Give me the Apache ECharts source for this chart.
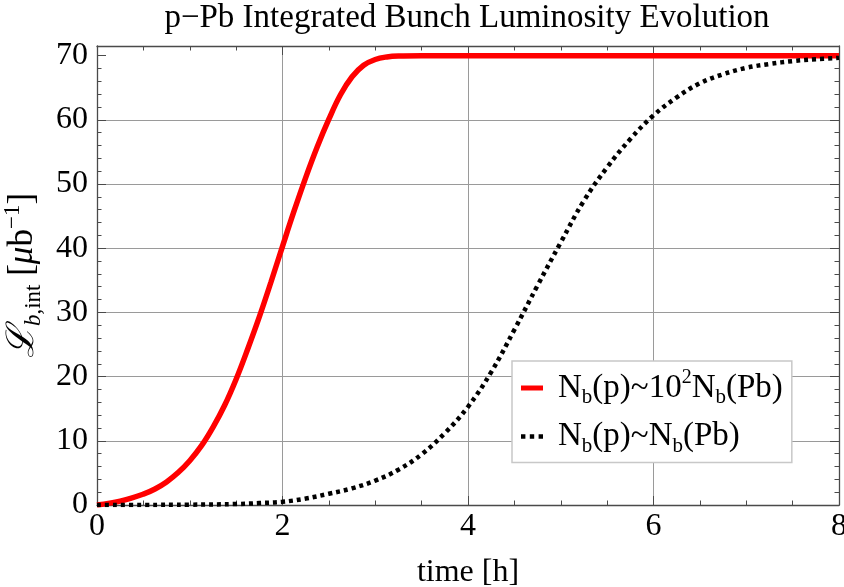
<!DOCTYPE html>
<html><head><meta charset="utf-8">
<script src="https://cdn.jsdelivr.net/npm/echarts@6/dist/echarts.min.js"></script>
<style>html,body{margin:0;padding:0;background:#fff}#c{width:844px;height:587px}</style>
</head><body><div id="c"></div>
<script>
// ---- data ----
const titleText = 'p\u2212Pb Integrated Bunch Luminosity Evolution';
const seriesNames = ['Nb(p)~10^2 Nb(Pb)', 'Nb(p)~Nb(Pb)'];
const tRed = [0, 0.25, 0.5, 0.625, 0.75, 0.875, 1.0, 1.125, 1.25, 1.375, 1.5, 1.625, 1.75, 1.875, 2.0, 2.125, 2.25, 2.375, 2.5, 2.625, 2.75, 2.875, 3.0, 3.125, 3.25, 3.5, 4, 5, 6, 7, 8];
const lRed = [0, 0.6, 1.7, 2.5, 3.6, 5.05, 6.9, 9.2, 12.1, 15.5, 19.6, 24.3, 29.3, 34.7, 40.3, 45.8, 51.0, 55.8, 60.1, 63.9, 66.7, 68.5, 69.4, 69.8, 69.95, 70, 70, 70, 70, 70, 70];
const tBlack = [0, 0.5, 1.0, 1.5, 1.75, 2.0, 2.25, 2.5, 2.75, 3.0, 3.25, 3.5, 3.75, 4.0, 4.25, 4.5, 4.75, 5.0, 5.25, 5.5, 5.75, 6.0, 6.25, 6.5, 6.75, 7.0, 7.25, 7.5, 7.75, 8.0];
const lBlack = [0, 0.01, 0.05, 0.15, 0.3, 0.5, 1.0, 1.75, 2.6, 3.8, 5.5, 7.9, 11.2, 15.3, 20.7, 27.3, 34.2, 40.9, 47.4, 52.6, 57.0, 60.7, 63.5, 65.7, 67.1, 68.1, 68.7, 69.15, 69.45, 69.65];
const xTickLabels = [0, 2, 4, 6, 8];
const yTickLabels = [0, 10, 20, 30, 40, 50, 60, 70];

// ---- styling ----
const FONT = 'Liberation Serif';
const FRAME = '#4a4a4a';
const GRID = '#9a9a9a';
const X_MIN = 0, X_MAX = 8, Y_MIN = 0, Y_MAX = 71.5;

const chart = echarts.init(document.getElementById('c'), null, {renderer: 'canvas'});

function yLabel(v) { return yTickLabels.indexOf(v) >= 0 ? String(v) : ''; }
function xLabel(v) { return xTickLabels.indexOf(v) >= 0 ? String(v) : ''; }

const ySplitColors = [];
for (let i = 0; i < 9; i++) ySplitColors.push(i === 0 || i >= 7 ? 'rgba(0,0,0,0)' : GRID);
const xSplitColors = ['rgba(0,0,0,0)', GRID, GRID, GRID, 'rgba(0,0,0,0)'];

const baseY = {
  type: 'value', min: Y_MIN, max: Y_MAX, gridIndex: 0,
  axisLine: {show: false, onZero: false},
  axisLabel: {show: false},
  splitLine: {show: false},
  axisTick: {show: true, inside: true, length: 9, lineStyle: {color: FRAME, width: 1}}
};
const baseX = {
  type: 'value', min: X_MIN, max: X_MAX, interval: 2, gridIndex: 0,
  axisLine: {show: true, onZero: false, lineStyle: {color: FRAME, width: 1.3}},
  axisLabel: {show: false},
  splitLine: {show: false},
  axisTick: {show: true, inside: true, length: 9, lineStyle: {color: FRAME, width: 1}},
  minorTick: {show: true, splitNumber: 4, length: 4.5, lineStyle: {color: FRAME, width: 1}}
};

const option = {
  animation: false,
  backgroundColor: '#fff',
  textStyle: {fontFamily: FONT},
  title: {
    text: titleText, left: 467, top: 2, padding: 0, textAlign: 'center',
    textStyle: {fontFamily: FONT, fontSize: 33, fontWeight: 'normal', color: '#000'}
  },
  grid: {left: 97, right: 5, top: 46, bottom: 82, containLabel: false, outerBoundsMode: 'none'},
  legend: {
    orient: 'vertical', left: 512, top: 361,
    padding: [7, 9, 6, 9], itemGap: 12, itemWidth: 22, itemHeight: 5,
    backgroundColor: '#fff', borderColor: '#c8c8c8', borderWidth: 1.5, borderRadius: 0,
    data: [
      {name: seriesNames[0], icon: 'rect'},
      {name: seriesNames[1], icon: 'path://M0,0h4v4h-4zM8,0h4v4h-4zM16,0h4v4h-4z'}
    ],
    formatter: function (name) {
      if (name === seriesNames[0]) return '{n0|N}{sub|b}{n|(p)~10}{sup|2}{n|N}{sub|b}{n|(Pb)}';
      return '{n0|N}{sub|b}{n|(p)~N}{sub|b}{n|(Pb)}';
    },
    textStyle: {
      fontFamily: FONT, color: '#000', fontSize: 33,
      rich: {
        n0: {fontFamily: FONT, fontSize: 33, lineHeight: 40, color: '#000', padding: [0, 0, 0, 10]},
        n: {fontFamily: FONT, fontSize: 33, lineHeight: 40, color: '#000'},
        sub: {fontFamily: FONT, fontSize: 21, lineHeight: 21, color: '#000', verticalAlign: 'bottom'},
        sup: {fontFamily: FONT, fontSize: 20, lineHeight: 33, color: '#000', verticalAlign: 'top'}
      }
    }
  },
  xAxis: [
    Object.assign({}, baseX, {
      position: 'bottom',
      axisLabel: {show: true, formatter: xLabel, fontFamily: FONT, fontSize: 32, color: '#000', margin: 6},
      splitLine: {show: true, lineStyle: {color: xSplitColors, width: 1}},
      name: 'time [h]', nameLocation: 'middle', nameGap: 52,
      nameTextStyle: {fontFamily: FONT, fontSize: 32, color: '#000'}
    }),
    Object.assign({}, baseX, {position: 'top'})
  ],
  yAxis: [
    Object.assign({}, baseY, {
      position: 'left', interval: 10,
      axisLine: {show: true, onZero: false, lineStyle: {color: FRAME, width: 1.3}},
      axisLabel: {show: true, formatter: yLabel, fontFamily: FONT, fontSize: 32, color: '#000', margin: 9},
      splitLine: {show: true, lineStyle: {color: ySplitColors, width: 1}},
      name: '{L|\u2112}{si|b}{s|,int}{m| [}{mi|\u03bc}{m|b}{sup|\u22121}{m|]}',
      nameLocation: 'middle', nameRotate: 90, nameGap: 44,
      nameTextStyle: {
        fontFamily: FONT, fontSize: 34, color: '#000',
        rich: {
          L: {fontSize: 38, lineHeight: 44, fontStyle: 'italic', color: '#000'},
          m: {fontFamily: FONT, fontSize: 35, lineHeight: 44, color: '#000'},
          mi: {fontFamily: FONT, fontSize: 35, lineHeight: 44, fontStyle: 'italic', color: '#000'},
          si: {fontFamily: FONT, fontSize: 23, lineHeight: 23, fontStyle: 'italic', color: '#000', verticalAlign: 'bottom'},
          s: {fontFamily: FONT, fontSize: 23, lineHeight: 23, color: '#000', verticalAlign: 'bottom'},
          sup: {fontFamily: FONT, fontSize: 23, lineHeight: 23, color: '#000', verticalAlign: 'top'}
        }
      }
    }),
    Object.assign({}, baseY, {position: 'left', interval: 2, axisTick: {show: true, inside: true, length: 4.5, lineStyle: {color: FRAME, width: 1}}}),
    Object.assign({}, baseY, {position: 'right', interval: 10,
      axisLine: {show: true, onZero: false, lineStyle: {color: FRAME, width: 1.3}}}),
    Object.assign({}, baseY, {position: 'right', interval: 2, axisTick: {show: true, inside: true, length: 4.5, lineStyle: {color: FRAME, width: 1}}})
  ],
  series: [
    {
      name: seriesNames[0], type: 'line', xAxisIndex: 0, yAxisIndex: 0,
      data: tRed.map((t, i) => [t, lRed[i]]),
      symbol: 'none', showSymbol: false, smooth: 0.4,
      lineStyle: {color: '#ff0000', width: 5.5}, itemStyle: {color: '#ff0000'}
    },
    {
      name: seriesNames[1], type: 'line', xAxisIndex: 0, yAxisIndex: 0,
      data: tBlack.map((t, i) => [t, lBlack[i]]),
      symbol: 'none', showSymbol: false, smooth: 0.4,
      lineStyle: {color: '#000000', width: 4.5, type: [4, 4]}, itemStyle: {color: '#000000'}
    }
  ]
};
chart.setOption(option);
</script>
</body></html>
